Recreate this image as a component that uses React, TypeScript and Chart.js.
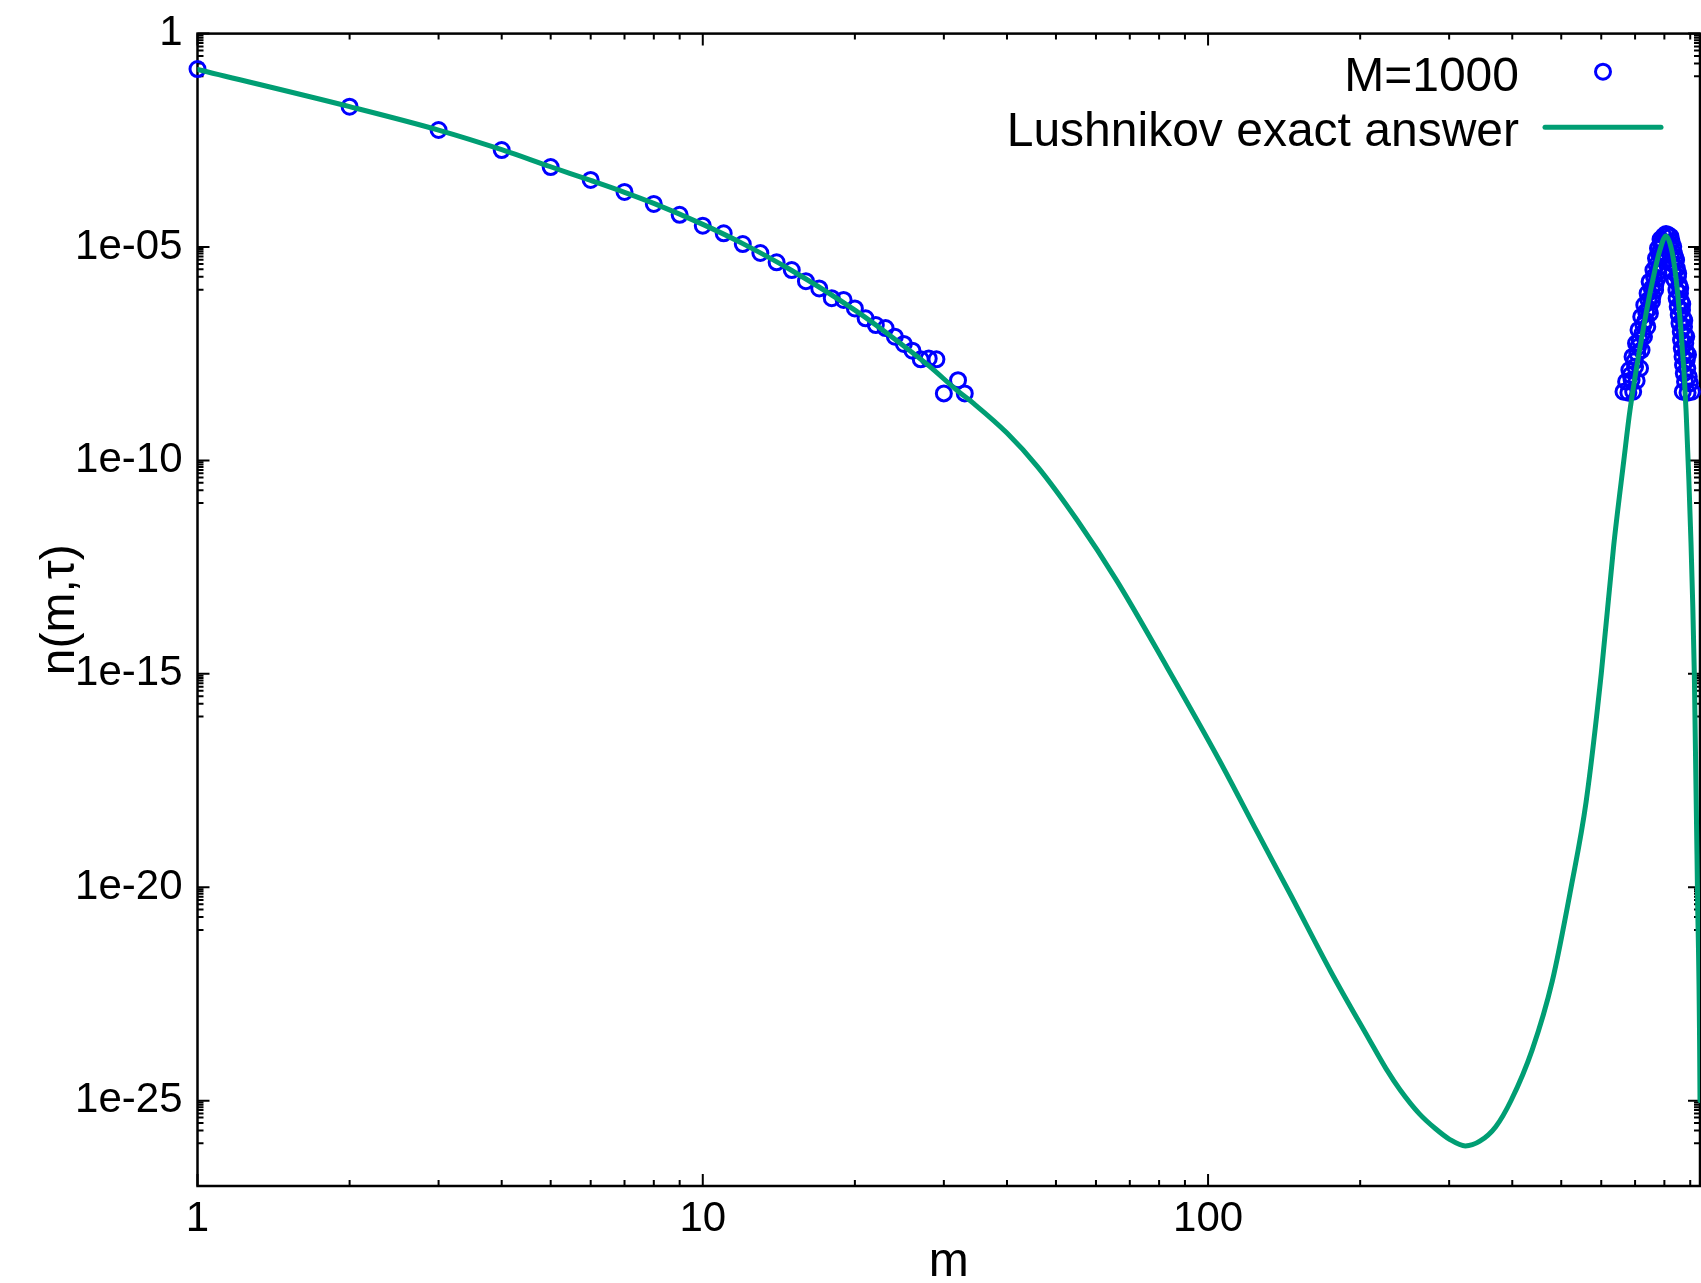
import React, { useEffect, useRef } from 'react';
import { Chart, registerables } from 'chart.js';

Chart.register(...registerables);

// ---- data ----
const seriesLabels = ['M=1000', 'Lushnikov exact answer'];
const xTitle = 'm';
const yTitle = 'n(m,\u03c4)';

const xTickValues = [1, 10, 100];
const xTickLabels = ['1', '10', '100'];
const yTickValues = [1, 1e-5, 1e-10, 1e-15, 1e-20, 1e-25];
const yTickLabels = ['1', '1e-05', '1e-10', '1e-15', '1e-20', '1e-25'];

const X_MIN = 1;
const X_MAX = 941;
const Y_MIN = 1e-27;
const Y_MAX = 1;

// simulation points, small m
const dataM = [1, 2, 3, 4, 5, 6, 7, 8, 9, 10, 11, 12, 13, 14, 15, 16, 17, 18, 19, 20, 21, 22, 23, 24, 25, 26, 27, 28, 29, 30, 32, 33];
const dataN = [0.148, 0.0194, 5.51e-3, 1.87e-3, 7.45e-4, 3.72e-4, 1.95e-4, 1.02e-4, 5.69e-5, 3.16e-5, 2.09e-5, 1.17e-5, 7.24e-6, 4.37e-6, 2.88e-6, 1.58e-6, 1.07e-6, 6.31e-7, 5.75e-7, 3.63e-7, 2.14e-7, 1.48e-7, 1.26e-7, 7.94e-8, 5.37e-8, 3.72e-8, 2.34e-8, 2.45e-8, 2.34e-8, 3.72e-9, 7.59e-9, 3.72e-9];

// simulation points, gel peak
const clusterM = [664, 679, 694, 672, 689, 705, 682, 700, 716, 692, 707, 721, 703, 715, 729, 711, 727, 740, 720, 736, 749, 730, 744, 756, 741, 755, 767, 748, 763, 775, 761, 772, 782, 770, 780, 789, 777, 787, 796, 786, 797, 806, 815, 823, 827, 833, 818, 836, 824, 844, 828, 847, 832, 851, 838, 856, 845, 859, 846, 864, 850, 867, 854, 872, 857, 875, 862, 878, 863, 880, 866, 883, 869, 886, 871, 888, 874, 894, 879, 899, 870, 889, 907, 686, 698, 710, 724, 734, 746, 758, 768, 778, 792, 840, 852, 860, 868, 876, 884, 891];
const clusterN = [4.08e-9, 3.86e-9, 4.08e-9, 7.0e-9, 7.65e-9, 7.38e-9, 1.31e-8, 1.57e-8, 1.44e-8, 2.69e-8, 3.23e-8, 3.86e-8, 5.53e-8, 6.62e-8, 7.93e-8, 1.14e-7, 1.49e-7, 1.36e-7, 2.33e-7, 3.05e-7, 2.79e-7, 4.38e-7, 5.73e-7, 5.24e-7, 8.21e-7, 1.075e-6, 9.83e-7, 1.54e-6, 2.02e-6, 1.84e-6, 2.89e-6, 3.79e-6, 3.46e-6, 5.43e-6, 7.1e-6, 6.49e-6, 9.31e-6, 1.22e-5, 1.11e-5, 1.51e-5, 1.81e-5, 2.02e-5, 1.91e-5, 1.75e-5, 1.33e-5, 1.02e-5, 1.11e-5, 7.1e-6, 6.49e-6, 4.96e-6, 4.14e-6, 3.16e-6, 2.64e-6, 2.02e-6, 1.69e-6, 1.29e-6, 9.83e-7, 8.21e-7, 6.27e-7, 5.24e-7, 4.0e-7, 3.34e-7, 2.55e-7, 2.13e-7, 1.63e-7, 1.36e-7, 1.04e-7, 8.67e-8, 6.62e-8, 5.53e-8, 4.22e-8, 3.53e-8, 2.69e-8, 2.25e-8, 1.72e-8, 1.44e-8, 1.1e-8, 9.16e-9, 7.0e-9, 6.39e-9, 4.08e-9, 3.86e-9, 4.08e-9, 1.0e-8, 2.1e-8, 4.6e-8, 9.5e-8, 1.9e-7, 3.6e-7, 7.0e-7, 1.35e-6, 2.6e-6, 6.0e-6, 5.8e-6, 2.4e-6, 1.1e-6, 4.6e-7, 1.9e-7, 8.0e-8, 3.0e-8];

// exact answer curve
const curveM = [1, 2, 3, 4, 5, 6, 7, 8, 10, 12, 15, 20, 24, 28, 32, 34.3, 40, 46, 55, 66, 83, 105, 125, 146, 175, 208, 225, 240, 262, 282, 300, 323, 345, 371, 398, 438, 480, 523, 560, 600, 635, 665, 684, 738, 761, 784, 806, 827, 843, 856, 883, 917, 930, 941, 942, 945];
const curveN = [0.1445, 0.0195, 5.5e-3, 1.91e-3, 7.59e-4, 3.63e-4, 1.91e-4, 1.05e-4, 3.39e-5, 1.2e-5, 2.82e-6, 3.31e-7, 6.92e-8, 1.66e-8, 4.17e-9, 2.19e-9, 4.37e-10, 7.08e-11, 4.07e-12, 1.51e-13, 1.41e-15, 1.0e-17, 2.0e-19, 6.31e-21, 1.05e-22, 2.82e-24, 5.62e-25, 1.78e-25, 4.9e-26, 2.19e-26, 1.26e-26, 8.71e-27, 1.12e-26, 2.45e-26, 1.02e-25, 1.55e-24, 6.31e-23, 1e-20, 1e-18, 1e-15, 1e-12, 1e-10, 1.51e-9, 3.31e-7, 2.0e-6, 8.51e-6, 1.82e-5, 8.51e-6, 2.0e-6, 3.31e-7, 1.51e-9, 1e-15, 1e-20, 1e-25, 3.16e-27, 1e-30];

const FONT = "'Liberation Sans', Arial, Helvetica, sans-serif";
const BLUE = '#0000ff';
const GREEN = '#009e73';

const gnuplotFrame = {
  id: 'gnuplotFrame',
  beforeDatasetsDraw(chart: any) {
    const { ctx, chartArea } = chart;
    const xs = chart.scales.x;
    const ys = chart.scales.y;
    const { left, right, top, bottom } = chartArea;
    ctx.save();
    ctx.strokeStyle = '#000';
    ctx.lineWidth = 2;
    const major = 12;
    const minor = 6;
    const xTicks: [number, number][] = [];
    for (let d = 0; d <= 2; d++) {
      const base = Math.pow(10, d);
      xTicks.push([base, major]);
      for (let k = 2; k <= 9; k++) {
        if (k * base <= X_MAX) xTicks.push([k * base, minor]);
      }
    }
    for (const [v, len] of xTicks) {
      const px = xs.getPixelForValue(v);
      ctx.beginPath();
      ctx.moveTo(px, bottom);
      ctx.lineTo(px, bottom - len);
      ctx.moveTo(px, top);
      ctx.lineTo(px, top + len);
      ctx.stroke();
    }
    const yTicks: [number, number][] = [];
    for (const v of yTickValues) {
      yTicks.push([v, major]);
      for (let k = 1; k <= 9; k++) yTicks.push([(v * k) / 10, minor]);
    }
    for (const [v, len] of yTicks) {
      if (v < Y_MIN || v > Y_MAX) continue;
      const py = ys.getPixelForValue(v);
      ctx.beginPath();
      ctx.moveTo(left, py);
      ctx.lineTo(left + len, py);
      ctx.moveTo(right, py);
      ctx.lineTo(right - len, py);
      ctx.stroke();
    }
    ctx.lineWidth = 2.5;
    ctx.strokeRect(left, top, right - left, bottom - top);
    ctx.restore();
  },
  afterDraw(chart: any) {
    const { ctx, chartArea } = chart;
    ctx.save();
    ctx.fillStyle = '#000';
    ctx.font = `48px ${FONT}`;
    ctx.textAlign = 'center';
    ctx.textBaseline = 'alphabetic';
    ctx.fillText(xTitle, (chartArea.left + chartArea.right) / 2, 1276);
    ctx.save();
    ctx.translate(74, (chartArea.top + chartArea.bottom) / 2);
    ctx.rotate(-Math.PI / 2);
    ctx.fillText(yTitle, 0, 0);
    ctx.restore();
    ctx.textAlign = 'right';
    ctx.fillText(seriesLabels[0], 1519, 91);
    ctx.fillText(seriesLabels[1], 1519, 146);
    ctx.strokeStyle = BLUE;
    ctx.lineWidth = 3;
    ctx.beginPath();
    ctx.arc(1603, 71.7, 7.5, 0, Math.PI * 2);
    ctx.stroke();
    ctx.strokeStyle = GREEN;
    ctx.lineWidth = 5;
    ctx.lineCap = 'round';
    ctx.beginPath();
    ctx.moveTo(1545, 127.3);
    ctx.lineTo(1661, 127.3);
    ctx.stroke();
    ctx.restore();
  },
};

const zeroPadding = (s: any) => {
  s.paddingLeft = 0;
  s.paddingRight = 0;
  s.paddingTop = 0;
  s.paddingBottom = 0;
};

export default function App() {
  const canvasRef = useRef<HTMLCanvasElement | null>(null);

  useEffect(() => {
    const prevMargin = document.body.style.margin;
    document.body.style.margin = '0';
    const canvas = canvasRef.current;
    if (!canvas) return;
    const points = [
      ...dataM.map((m, i) => ({ x: m, y: dataN[i] })),
      ...clusterM.map((m, i) => ({ x: m, y: clusterN[i] })),
    ];
    const curve = curveM.map((m, i) => ({ x: m, y: curveN[i] }));
    const chart = new Chart(canvas, {
      type: 'scatter',
      data: {
        datasets: [
          {
            type: 'line',
            label: seriesLabels[1],
            data: curve,
            borderColor: GREEN,
            backgroundColor: GREEN,
            borderWidth: 5,
            pointRadius: 0,
            fill: false,
            cubicInterpolationMode: 'monotone',
            borderJoinStyle: 'round',
            borderCapStyle: 'round',
            order: 0,
            clip: 0,
          } as any,
          {
            type: 'scatter',
            label: seriesLabels[0],
            data: points,
            borderColor: BLUE,
            backgroundColor: 'rgba(0,0,0,0)',
            pointRadius: 7.5,
            pointBorderWidth: 3,
            borderWidth: 3,
            showLine: false,
            order: 1,
            clip: false,
          } as any,
        ],
      },
      options: {
        responsive: false,
        animation: false,
        devicePixelRatio: 1,
        events: [],
        layout: { autoPadding: false, padding: { top: 33.6, right: 1, bottom: 0, left: 0 } },
        plugins: { legend: { display: false }, tooltip: { enabled: false }, title: { display: false } },
        scales: {
          x: {
            type: 'logarithmic',
            position: 'bottom',
            min: X_MIN,
            max: X_MAX,
            grid: { display: false, drawTicks: false },
            border: { display: false },
            afterFit: (s: any) => {
              s.height = 97;
              zeroPadding(s);
            },
            afterBuildTicks: (s: any) => {
              s.ticks = xTickValues.map((v) => ({ value: v }));
            },
            ticks: {
              autoSkip: false,
              maxRotation: 0,
              minRotation: 0,
              padding: 8,
              color: '#000',
              font: { family: FONT, size: 42 },
              callback: (_v: any, i: number) => xTickLabels[i],
            },
          },
          y: {
            type: 'logarithmic',
            position: 'left',
            min: Y_MIN,
            max: Y_MAX,
            grid: { display: false, drawTicks: false },
            border: { display: false },
            afterFit: (s: any) => {
              s.width = 197.5;
              zeroPadding(s);
            },
            afterBuildTicks: (s: any) => {
              s.ticks = yTickValues.map((v) => ({ value: v }));
            },
            ticks: {
              autoSkip: false,
              padding: 15,
              color: '#000',
              font: { family: FONT, size: 42 },
              callback: (_v: any, i: number) => yTickLabels[i],
            },
          },
        },
      } as any,
      plugins: [gnuplotFrame],
    });
    return () => {
      chart.destroy();
      document.body.style.margin = prevMargin;
    };
  }, []);

  return (
    <div style={{ position: 'fixed', left: 0, top: 0, width: 1701, height: 1283, background: '#fff' }}>
      <canvas ref={canvasRef} width={1701} height={1283} style={{ width: 1701, height: 1283, display: 'block' }} />
    </div>
  );
}
